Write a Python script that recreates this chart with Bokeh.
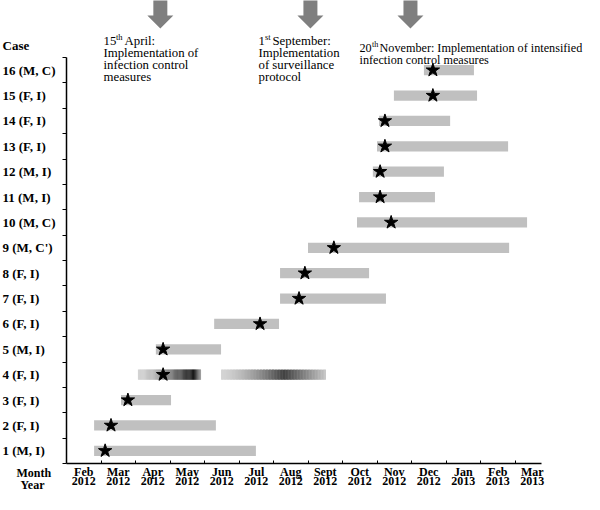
from bokeh.plotting import figure
from bokeh.models import FixedTicker, Label, PolyAnnotation, ColumnDataSource, LinearAxis, Range1d
from bokeh.core.properties import value
from bokeh.embed import file_html
from bokeh.resources import INLINE

# ---------------- data ----------------
case_ids = list(range(1, 17))
case_labels = ["1 (M, I)", "2 (F, I)", "3 (F, I)", "4 (F, I)", "5 (M, I)", "6 (F, I)",
               "7 (F, I)", "8 (F, I)", "9 (M, C')", "10 (M, C)", "11 (M, I)", "12 (M, I)",
               "13 (F, I)", "14 (F, I)", "15 (F, I)", "16 (M, C)"]

# months counted from 1 Feb 2012 (0) to end of Mar 2013 (14)
month_names = ["Feb", "Mar", "Apr", "May", "Jun", "Jul", "Aug", "Sept", "Oct", "Nov",
               "Dec", "Jan", "Feb", "Mar"]
month_years = ["2012"] * 11 + ["2013"] * 3

bar_case = [1, 2, 3, 5, 6, 7, 8, 9, 10, 11, 12, 13, 14, 15, 16]
bar_start = [0.80, 0.80, 1.58, 2.59, 4.28, 6.19, 6.19, 7.00, 8.42, 8.48, 8.88, 9.00, 9.06, 9.49, 10.36]
bar_end = [5.49, 4.33, 3.03, 4.48, 6.16, 9.26, 8.77, 12.83, 13.35, 10.68, 10.94, 12.80, 11.12, 11.90, 11.81]

star_case = list(range(1, 17))
star_month = [1.12, 1.29, 1.78, 2.80, 2.80, 5.61, 6.74, 6.91, 7.75, 9.41, 9.09, 9.09, 9.23, 9.23, 10.62, 10.62]

# case 4: two shaded (gradient) periods
case4_start = [2.07, 4.48]
case4_end = [3.90, 7.52]

# interventions (arrow positions, months)
arrow_month = [2.72, 7.07, 9.97]

# ---------------- layout ----------------
W, H = 584, 494
FL, FT, FB = 66, 57, 463   # data area in canvas px
XS = 34.5
XMAX = 13.77
YS = (FB - FT) / 16.0


def X(cx):
    return (cx - FL) / XS


def Y(cy):
    return 16.5 - (cy - FT) / YS


SERIF = "Liberation Serif"
BAR_H = 0.40
GREY = "#c0c0c0"

p = figure(width=W, height=H, x_range=Range1d(X(0), X(W)), y_range=Range1d(Y(H), Y(0)),
           output_backend="svg", toolbar_location=None, min_border=0,
           x_axis_type=None, y_axis_type=None)
p.outline_line_color = None
p.background_fill_color = "white"
p.border_fill_color = "white"

# bars
src = ColumnDataSource(dict(y=bar_case, left=bar_start, right=bar_end))
p.hbar(y="y", left="left", right="right", height=BAR_H, source=src,
       fill_color=GREY, line_color=None)

# gradient bars for case 4
grad_style = [(212, 25, 0.88, 160), (212, 65, 0.60, 200)]  # start level, peak level, peak pos, end level
gl, gr, gc = [], [], []
N = 70
for (s, e), (l0, lp, pk, l1) in zip(zip(case4_start, case4_end), grad_style):
    for i in range(N):
        t = (i + 0.5) / N
        if t < pk:
            f = (t / pk) ** 1.5
            lv = l0 + (lp - l0) * f
        else:
            f = (t - pk) / (1 - pk)
            lv = lp + (l1 - lp) * f
        lv = int(max(0, min(255, lv)))
        gl.append(s + (e - s) * i / N)
        gr.append(s + (e - s) * (i + 1) / N + (0.4 / XS if i < N - 1 else 0))
        gc.append("#%02x%02x%02x" % (lv, lv, lv))
gsrc = ColumnDataSource(dict(y=[4] * len(gl), left=gl, right=gr, c=gc))
p.hbar(y="y", left="left", right="right", height=BAR_H, source=gsrc,
       fill_color="c", line_color=None)

# stars
p.scatter(x=star_month, y=star_case, marker="star", size=14,
          fill_color="black", line_color="black")

# ---------------- axes (fixed inside the full-canvas frame) ----------------
AX_FS = "12px"
S_MONTH, S_YEAR = 1, 13
xa = LinearAxis(fixed_location=0.5, bounds=(0, XMAX))
xa.ticker = FixedTicker(ticks=[i + 0.5 for i in range(14)], minor_ticks=list(range(1, 14)))
xa.major_label_overrides = {i + 0.5: month_names[i] for i in range(14)}
xa.major_tick_line_color = None
xa.major_tick_in = 0
xa.major_tick_out = 0
xa.minor_tick_in = 3
xa.minor_tick_out = 0
xa.minor_tick_line_color = "black"
xa.axis_line_color = "black"
xa.axis_line_width = 1.5
xa.major_label_text_font = SERIF
xa.major_label_text_font_style = "bold"
xa.major_label_text_font_size = AX_FS
xa.major_label_standoff = S_MONTH
xa.major_label_text_color = "black"
p.add_layout(xa, "below")

xa2 = LinearAxis(fixed_location=0.5)
xa2.ticker = FixedTicker(ticks=[i + 0.5 for i in range(14)], minor_ticks=[])
xa2.major_label_overrides = {i + 0.5: month_years[i] for i in range(14)}
xa2.axis_line_color = None
xa2.major_tick_line_color = None
xa2.minor_tick_line_color = None
xa2.major_tick_in = 0
xa2.major_tick_out = 0
xa2.major_label_text_font = SERIF
xa2.major_label_text_font_style = "bold"
xa2.major_label_text_font_size = AX_FS
xa2.major_label_standoff = S_YEAR
xa2.major_label_text_color = "black"
p.add_layout(xa2, "below")

ya = LinearAxis(fixed_location=0, bounds=(0.5, 16.5))
ya.ticker = FixedTicker(ticks=[], minor_ticks=[i + 0.5 for i in range(17)])
ya.minor_tick_in = 0
ya.minor_tick_out = 4
ya.minor_tick_line_color = "black"
ya.major_tick_line_color = None
ya.axis_line_color = "black"
ya.axis_line_width = 1.5
p.add_layout(ya, "left")

# case labels
p.text(x=[X(2)] * 16, y=case_ids, text=case_labels,
       text_font=value(SERIF), text_font_style="bold", text_font_size="13px",
       text_align="left", text_baseline="middle", text_color="black")


def lab(txt, cx, cy, size="13px", style="normal", align="left"):
    p.add_layout(Label(x=X(cx), y=Y(cy), text=txt, text_font=SERIF,
                       text_font_size=size, text_font_style=style,
                       text_align=align, text_baseline="middle",
                       text_color="black"))


lab("Case", 2, 45, "13px", "bold")
lab("Month", 16, FB + S_MONTH + 8, AX_FS, "bold")
lab("Year", 20, FB + S_YEAR + 8, AX_FS, "bold")

# arrows
for am in arrow_month:
    hs, hh = 7 / XS, 13 / XS
    y0, y1, y2 = Y(-2), Y(15), Y(28)
    xs = [am - hs, am + hs, am + hs, am + hh, am, am - hh, am - hs]
    ys = [y0, y0, y1, y1, y2, y1, y1]
    p.add_layout(PolyAnnotation(xs=xs, ys=ys, fill_color="#7f7f7f", fill_alpha=1.0,
                                line_color=None))

# annotation texts
FS = "12.8px"
lab("15", 103, 40, FS)
lab("th", 115.5, 36, "8.5px")
lab("April:", 124, 40, FS)
lab("Implementation of", 103, 52.5, FS)
lab("infection control", 103, 64.5, FS)
lab("measures", 103, 76.5, FS)

lab("1", 258, 40, FS)
lab("st", 264.5, 36, "8.5px")
lab("September:", 272, 40, FS)
lab("Implementation", 258, 52.5, FS)
lab("of surveillance", 258, 64.5, FS)
lab("protocol", 258, 76.5, FS)

lab("20", 359, 47.5, "12.2px")
lab("th", 371.5, 43.5, "8.2px")
lab("November: Implementation of intensified", 379, 47.5, "12.2px")
lab("infection control measures", 359, 59, "12.2px")

open("out.html", "w").write(file_html(p, INLINE))
